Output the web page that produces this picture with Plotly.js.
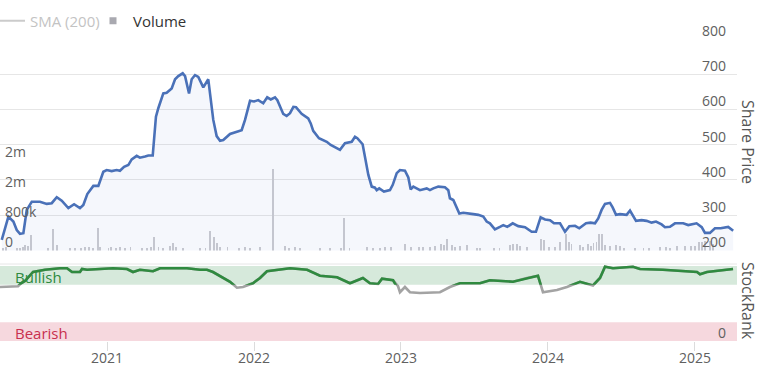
<!DOCTYPE html>
<html>
<head>
<meta charset="utf-8">
<script src="https://cdn.plot.ly/plotly-3.0.1.min.js"></script>
<style>html,body{margin:0;padding:0;background:#fff;}#chart{width:759px;height:366px;}</style>
</head>
<body>
<div id="chart"></div>
<script>
// ---- data (x in decimal years) ----
const priceYears = [2020.284,2020.329,2020.363,2020.386,2020.408,2020.431,2020.454,2020.488,2020.544,2020.590,2020.624,2020.658,2020.692,2020.737,2020.776,2020.816,2020.839,2020.866,2020.907,2020.941,2020.975,2020.998,2021.032,2021.066,2021.088,2021.116,2021.145,2021.168,2021.202,2021.224,2021.259,2021.281,2021.311,2021.333,2021.349,2021.383,2021.406,2021.440,2021.463,2021.485,2021.515,2021.531,2021.558,2021.576,2021.599,2021.621,2021.655,2021.689,2021.723,2021.746,2021.769,2021.791,2021.837,2021.882,2021.916,2021.939,2021.973,2022.000,2022.029,2022.063,2022.090,2022.114,2022.143,2022.159,2022.199,2022.222,2022.245,2022.268,2022.286,2022.324,2022.369,2022.386,2022.403,2022.442,2022.495,2022.522,2022.585,2022.619,2022.665,2022.687,2022.703,2022.739,2022.778,2022.801,2022.823,2022.835,2022.852,2022.884,2022.925,2022.944,2022.971,2022.993,2023.027,2023.050,2023.066,2023.084,2023.129,2023.175,2023.197,2023.220,2023.254,2023.299,2023.322,2023.333,2023.356,2023.397,2023.424,2023.492,2023.526,2023.560,2023.583,2023.605,2023.639,2023.673,2023.696,2023.723,2023.760,2023.798,2023.844,2023.889,2023.918,2023.950,2023.980,2024.014,2024.041,2024.082,2024.116,2024.145,2024.184,2024.213,2024.259,2024.290,2024.320,2024.342,2024.365,2024.388,2024.422,2024.440,2024.463,2024.490,2024.535,2024.558,2024.599,2024.637,2024.671,2024.705,2024.735,2024.773,2024.796,2024.830,2024.864,2024.920,2024.954,2025.011,2025.046,2025.068,2025.102,2025.136,2025.175,2025.226,2025.260];
const priceValues = [230,296,282,258,247,249,315,338,338,332,334,351,341,320,331,320,329,360,383,383,423,428,425,428,426,437,442,458,468,463,466,469,469,579,603,645,647,659,685,694,702,694,645,685,697,692,662,685,570,524,511,513,530,537,541,570,624,622,626,617,634,628,634,626,587,581,589,607,606,587,574,560,539,518,508,499,485,504,508,522,518,501,414,381,378,371,376,367,371,386,419,428,426,407,373,381,371,376,371,376,381,379,371,348,343,305,307,303,301,296,282,277,260,267,272,267,277,269,266,253,253,294,288,286,277,277,253,269,270,263,277,279,277,291,315,332,335,322,301,303,301,313,284,286,284,279,282,274,266,267,277,277,272,277,266,250,250,263,263,267,256];

const volumeYears = [2020.29,2020.31,2020.39,2020.41,2020.43,2020.44,2020.46,2020.48,2020.60,2020.63,2020.66,2020.75,2020.78,2020.82,2020.85,2020.88,2020.905,2020.94,2020.95,2021.01,2021.03,2021.06,2021.09,2021.12,2021.16,2021.24,2021.27,2021.30,2021.32,2021.35,2021.38,2021.43,2021.45,2021.47,2021.52,2021.63,2021.67,2021.70,2021.73,2021.75,2021.77,2021.82,2021.90,2021.94,2021.97,2022.04,2022.13,2022.21,2022.24,2022.28,2022.31,2022.45,2022.52,2022.59,2022.61,2022.65,2022.77,2022.81,2022.86,2022.89,2022.93,2023.03,2023.07,2023.12,2023.15,2023.20,2023.23,2023.27,2023.29,2023.31,2023.35,2023.37,2023.40,2023.45,2023.52,2023.54,2023.63,2023.67,2023.74,2023.76,2023.79,2023.81,2023.86,2023.95,2023.97,2024.01,2024.05,2024.08,2024.12,2024.14,2024.16,2024.22,2024.24,2024.27,2024.29,2024.31,2024.33,2024.35,2024.37,2024.39,2024.42,2024.46,2024.49,2024.52,2024.59,2024.65,2024.69,2024.76,2024.80,2024.83,2024.88,2024.93,2024.97,2025.00,2025.03,2025.05,2025.07,2025.10,2025.12];
const volumeValues = [71e3,94e3,71e3,71e3,106e3,141e3,129e3,412e3,59e3,573e3,141e3,71e3,59e3,71e3,82e3,94e3,71e3,608e3,82e3,71e3,82e3,71e3,82e3,71e3,106e3,71e3,71e3,94e3,368e3,82e3,71e3,129e3,188e3,106e3,71e3,59e3,71e3,520e3,353e3,212e3,106e3,94e3,71e3,82e3,71e3,106e3,2166e3,129e3,71e3,82e3,59e3,59e3,59e3,71e3,876e3,59e3,94e3,71e3,71e3,106e3,94e3,177e3,82e3,94e3,82e3,94e3,129e3,177e3,153e3,299e3,153e3,106e3,118e3,153e3,71e3,71e3,71e3,71e3,153e3,177e3,165e3,118e3,94e3,299e3,282e3,82e3,94e3,235e3,432e3,235e3,165e3,141e3,106e3,177e3,129e3,188e3,235e3,432e3,432e3,153e3,118e3,141e3,118e3,71e3,71e3,71e3,71e3,94e3,82e3,71e3,118e3,118e3,118e3,118e3,235e3,235e3,247e3,259e3,177e3];

const rankYears = [2020.272,2020.340,2020.395,2020.415,2020.442,2020.497,2020.578,2020.680,2020.728,2020.762,2020.816,2020.830,2020.864,2020.952,2021.041,2021.136,2021.177,2021.224,2021.313,2021.361,2021.544,2021.633,2021.680,2021.721,2021.789,2021.837,2021.884,2021.925,2021.993,2022.041,2022.088,2022.177,2022.245,2022.361,2022.449,2022.565,2022.653,2022.741,2022.789,2022.844,2022.871,2022.946,2022.980,2022.993,2023.027,2023.061,2023.129,2023.265,2023.333,2023.401,2023.537,2023.605,2023.762,2023.857,2023.932,2023.966,2024.061,2024.129,2024.218,2024.306,2024.354,2024.388,2024.442,2024.578,2024.626,2024.782,2025.014,2025.034,2025.082,2025.259];
const rankValues = [72,72,73,77,80,92,95,97,97,92,92,96,95,96,97,96,92,95,93,97,97,95,95,92,85,79,71,72,77,84,93,95,97,95,87,85,77,84,77,76,83,81,73,65,72,65,64,65,72,77,77,81,79,84,87,65,68,72,79,74,84,99,97,99,96,95,92,89,92,96];

const yearTicks = [2021,2022,2023,2024,2025];
const yearLabels = ['2021','2022','2023','2024','2025'];
const priceTicks = [200,300,400,500,600,700,800];
const volumeTicks = [0,800e3,1600e3,2400e3];
const volumeLabels = ['0','800k','2m','2m'];
const rankTicks = [0];
const bullishBand = [75,100];
const bearishBand = [0,25];
const bullThreshold = 75;

// ---- layout helpers (pixels -> paper) ----
const W = 759, H = 366;
const px = p => p / W;
const py = p => 1 - p / H;
const FONT = 'Open Sans, sans-serif';
const tickFont = {family: FONT, size: 14, color: '#606060'};

const rankTop = 102.667;
const volumeTop = 800e3 * (250.5 - 38.7) / 30;

const traces = [
  {type:'scatter', name:'<span style="color:#888">SMA (200)</span>', x:[null], y:[null], mode:'lines',
   line:{color:'#999', width:2}, visible:'legendonly', xaxis:'x', yaxis:'y2'},
  {type:'scatter', name:'Volume', x:[null], y:[null], mode:'markers',
   marker:{symbol:'square', size:7, color:'#a9a9b0'}, xaxis:'x', yaxis:'y'},
  {type:'bar', name:'VolumeBars', showlegend:false, x:volumeYears, y:volumeValues, width:0.013,
   marker:{color:'#cbcbd0', line:{width:0}}, xaxis:'x', yaxis:'y'},
  {type:'scatter', name:'Share Price', showlegend:false, x:priceYears, y:priceValues, mode:'lines',
   line:{color:'#4a71b8', width:2.6, shape:'linear'}, fill:'tozeroy', fillcolor:'rgba(90,120,205,0.06)',
   xaxis:'x', yaxis:'y2'},
  {type:'scatter', name:'StockRank', showlegend:false, x:rankYears, y:rankValues, mode:'lines',
   line:{color:'#a3a3a3', width:2.6}, xaxis:'x', yaxis:'y3'},
  {type:'scatter', name:'StockRank bullish', showlegend:false, x:rankYears, y:rankValues, mode:'lines',
   line:{color:'#2f8a3f', width:2.6}, xaxis:'x', yaxis:'y4'}
];

const xDom = [0, px(737)];
const layout = {
  width: W, height: H,
  margin: {l:0, r:0, t:0, b:0, autoexpand:false},
  paper_bgcolor:'#fff', plot_bgcolor:'rgba(0,0,0,0)',
  showlegend: true,
  legend: {orientation:'h', x:px(-10), xanchor:'left', y:py(21), yanchor:'middle',
           font:{family:FONT, size:15, color:'#333'}, itemwidth:30, bgcolor:'rgba(0,0,0,0)',
           entrywidth:58, entrywidthmode:'pixels', traceorder:'normal'},
  xaxis: {domain:xDom, range:[2020.272, 2025.286], anchor:'y3', tickmode:'array',
          tickvals:yearTicks, ticktext:yearLabels, ticks:'outside', ticklen:9, tickcolor:'#dcdcdc',
          ticklabelstandoff:-5, automargin:false,
          showgrid:false, zeroline:false, showline:false, tickfont:tickFont},
  yaxis: {domain:[py(250.5), py(38.7)], range:[0, volumeTop], side:'left', anchor:'x',
          tickmode:'array', tickvals:volumeTicks, ticktext:volumeLabels, automargin:false,
          ticklabelposition:'inside', ticklabelshift:-8, ticklabelstandoff:2, ticklabeloverflow:'allow',
          showgrid:false, zeroline:false, showline:false, ticks:'', tickfont:tickFont},
  yaxis2: {domain:[py(250.5), py(38.7)], range:[200, 800], side:'right', overlaying:'y', anchor:'x',
          tickmode:'array', tickvals:priceTicks, ticklabelposition:'inside', ticklabelshift:-8, automargin:false,
          ticklabelstandoff:8, ticklabeloverflow:'allow', showgrid:true, gridcolor:'#e6e6e6', gridwidth:1,
          zeroline:false, showline:false, ticks:'', tickfont:tickFont},
  yaxis3: {domain:[py(341), py(264)], range:[0, rankTop], side:'right', anchor:'x',
          tickmode:'array', tickvals:rankTicks, ticklabelposition:'inside', ticklabelshift:-8, automargin:false,
          ticklabelstandoff:8, ticklabeloverflow:'allow', showgrid:true, gridcolor:'#e6e6e6',
          zeroline:false, showline:false, ticks:'', tickfont:tickFont},
  yaxis4: {domain:[py(341 - bullThreshold*0.75), py(264)], range:[bullThreshold, rankTop], anchor:'x',
          side:'right', showticklabels:false, showgrid:false, zeroline:false, showline:false, ticks:''},
  shapes: [
    {type:'rect', xref:'paper', yref:'y3', x0:xDom[0], x1:xDom[1], y0:bullishBand[0], y1:bullishBand[1],
     fillcolor:'#d6e9db', line:{width:0}, layer:'below'},
    {type:'rect', xref:'paper', yref:'y3', x0:xDom[0], x1:xDom[1], y0:bearishBand[0], y1:bearishBand[1],
     fillcolor:'#f6d8de', line:{width:0}, layer:'below'},
    {type:'line', xref:'paper', yref:'paper', x0:xDom[0], x1:xDom[1], y0:py(264), y1:py(264),
     line:{color:'#e6e6e6', width:1}}
  ],
  annotations: [
    {text:'Bullish', xref:'paper', yref:'y3', x:px(13), y:(bullishBand[0]+bullishBand[1])/2 - 2, xanchor:'left', yanchor:'middle',
     showarrow:false, font:{family:FONT, size:15, color:'#2f8a3f'}},
    {text:'Bearish', xref:'paper', yref:'y3', x:px(13), y:(bearishBand[0]+bearishBand[1])/2 - 2, xanchor:'left', yanchor:'middle',
     showarrow:false, font:{family:FONT, size:15, color:'#c8304f'}},
    {text:'Share Price', xref:'paper', yref:'paper', x:px(748), y:py(142), xanchor:'center', yanchor:'middle',
     textangle:90, showarrow:false, font:{family:FONT, size:16, color:'#555'}},
    {text:'StockRank', xref:'paper', yref:'paper', x:px(748), y:py(301), xanchor:'center', yanchor:'middle',
     textangle:90, showarrow:false, font:{family:FONT, size:16, color:'#555'}}
  ],
  bargap: 0
};

Plotly.newPlot('chart', traces, layout, {staticPlot:true, displayModeBar:false});
</script>
</body>
</html>
